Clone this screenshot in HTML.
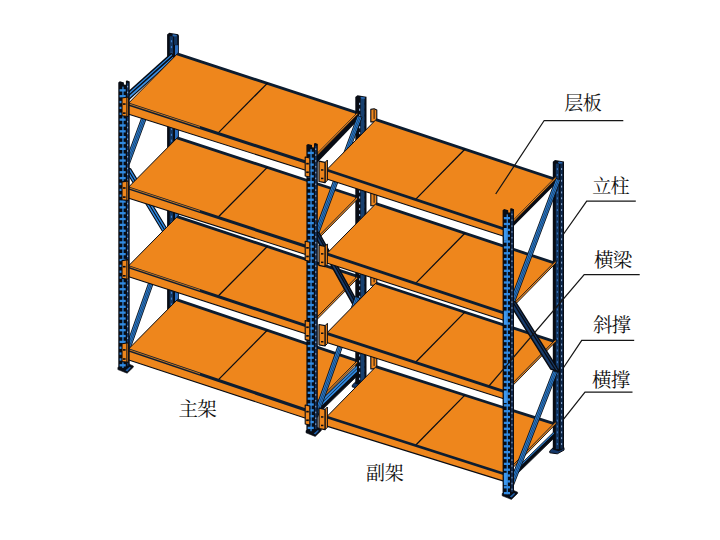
<!DOCTYPE html>
<html><head><meta charset="utf-8"><title>rack</title>
<style>html,body{margin:0;padding:0;background:#fff;font-family:"Liberation Sans",sans-serif;}svg{display:block}</style>
</head><body>
<svg width="720" height="540" viewBox="0 0 720 540">
<rect width="720" height="540" fill="#fff"/>
<polygon points="167.10,34.40 169.30,32.70 178.30,34.20 178.30,320.00 173.10,322.60 167.10,321.00" fill="#080C14"/>
<rect x="178.10" y="35.20" width="0.90" height="284.80" fill="#080C14"/>
<rect x="169.70" y="36.20" width="3.40" height="284.30" fill="#123560"/>
<rect x="175.00" y="45.20" width="3.20" height="274.80" fill="#2A6CBC"/>
<rect x="174.10" y="35.80" width="3.20" height="9.00" fill="#123560"/>
<polygon points="172.10,35.00 173.30,34.20 176.90,34.90 176.70,36.20 173.50,36.40" fill="#2A68B0"/>
<rect x="170.90" y="40.20" width="1.20" height="2.10" fill="#3F7FCB"/>
<rect x="170.90" y="46.05" width="1.20" height="2.10" fill="#3F7FCB"/>
<rect x="170.90" y="51.90" width="1.20" height="2.10" fill="#3F7FCB"/>
<rect x="170.90" y="57.75" width="1.20" height="2.10" fill="#3F7FCB"/>
<rect x="170.90" y="63.60" width="1.20" height="2.10" fill="#3F7FCB"/>
<rect x="170.90" y="69.45" width="1.20" height="2.10" fill="#3F7FCB"/>
<rect x="170.90" y="75.30" width="1.20" height="2.10" fill="#3F7FCB"/>
<rect x="170.90" y="81.15" width="1.20" height="2.10" fill="#3F7FCB"/>
<rect x="170.90" y="87.00" width="1.20" height="2.10" fill="#3F7FCB"/>
<rect x="170.90" y="92.85" width="1.20" height="2.10" fill="#3F7FCB"/>
<rect x="170.90" y="98.70" width="1.20" height="2.10" fill="#3F7FCB"/>
<rect x="170.90" y="104.55" width="1.20" height="2.10" fill="#3F7FCB"/>
<rect x="170.90" y="110.40" width="1.20" height="2.10" fill="#3F7FCB"/>
<rect x="170.90" y="116.25" width="1.20" height="2.10" fill="#3F7FCB"/>
<rect x="170.90" y="122.10" width="1.20" height="2.10" fill="#3F7FCB"/>
<rect x="170.90" y="127.95" width="1.20" height="2.10" fill="#3F7FCB"/>
<rect x="170.90" y="133.80" width="1.20" height="2.10" fill="#3F7FCB"/>
<rect x="170.90" y="139.65" width="1.20" height="2.10" fill="#3F7FCB"/>
<rect x="170.90" y="145.50" width="1.20" height="2.10" fill="#3F7FCB"/>
<rect x="170.90" y="151.35" width="1.20" height="2.10" fill="#3F7FCB"/>
<rect x="170.90" y="157.20" width="1.20" height="2.10" fill="#3F7FCB"/>
<rect x="170.90" y="163.05" width="1.20" height="2.10" fill="#3F7FCB"/>
<rect x="170.90" y="168.90" width="1.20" height="2.10" fill="#3F7FCB"/>
<rect x="170.90" y="174.75" width="1.20" height="2.10" fill="#3F7FCB"/>
<rect x="170.90" y="180.60" width="1.20" height="2.10" fill="#3F7FCB"/>
<rect x="170.90" y="186.45" width="1.20" height="2.10" fill="#3F7FCB"/>
<rect x="170.90" y="192.30" width="1.20" height="2.10" fill="#3F7FCB"/>
<rect x="170.90" y="198.15" width="1.20" height="2.10" fill="#3F7FCB"/>
<rect x="170.90" y="204.00" width="1.20" height="2.10" fill="#3F7FCB"/>
<rect x="170.90" y="209.85" width="1.20" height="2.10" fill="#3F7FCB"/>
<rect x="170.90" y="215.70" width="1.20" height="2.10" fill="#3F7FCB"/>
<rect x="170.90" y="221.55" width="1.20" height="2.10" fill="#3F7FCB"/>
<rect x="170.90" y="227.40" width="1.20" height="2.10" fill="#3F7FCB"/>
<rect x="170.90" y="233.25" width="1.20" height="2.10" fill="#3F7FCB"/>
<rect x="170.90" y="239.10" width="1.20" height="2.10" fill="#3F7FCB"/>
<rect x="170.90" y="244.95" width="1.20" height="2.10" fill="#3F7FCB"/>
<rect x="170.90" y="250.80" width="1.20" height="2.10" fill="#3F7FCB"/>
<rect x="170.90" y="256.65" width="1.20" height="2.10" fill="#3F7FCB"/>
<rect x="170.90" y="262.50" width="1.20" height="2.10" fill="#3F7FCB"/>
<rect x="170.90" y="268.35" width="1.20" height="2.10" fill="#3F7FCB"/>
<rect x="170.90" y="274.20" width="1.20" height="2.10" fill="#3F7FCB"/>
<rect x="170.90" y="280.05" width="1.20" height="2.10" fill="#3F7FCB"/>
<rect x="170.90" y="285.90" width="1.20" height="2.10" fill="#3F7FCB"/>
<rect x="170.90" y="291.75" width="1.20" height="2.10" fill="#3F7FCB"/>
<rect x="170.90" y="297.60" width="1.20" height="2.10" fill="#3F7FCB"/>
<rect x="170.90" y="303.45" width="1.20" height="2.10" fill="#3F7FCB"/>
<rect x="170.90" y="309.30" width="1.20" height="2.10" fill="#3F7FCB"/>
<rect x="170.90" y="315.15" width="1.20" height="2.10" fill="#3F7FCB"/>
<polygon points="124.99,162.78 129.39,164.24 166.20,64.73 161.80,63.27" fill="#318BE3" stroke="#080C14" stroke-width="0.90" stroke-linejoin="round"/>
<line x1="126.58" y1="163.31" x2="163.38" y2="63.80" stroke="#0A1A30" stroke-width="0.60" stroke-linecap="butt"/>
<line x1="127.98" y1="163.77" x2="164.79" y2="64.26" stroke="#0A1A30" stroke-width="0.60" stroke-linecap="butt"/>
<polygon points="123.27,166.44 130.67,168.88 173.05,238.94 165.65,236.50" fill="#318BE3" stroke="#080C14" stroke-width="1.10" stroke-linejoin="round"/>
<line x1="126.97" y1="167.66" x2="169.35" y2="237.72" stroke="#080C14" stroke-width="1.10" stroke-linecap="butt"/>
<polygon points="124.77,350.21 129.17,351.66 171.55,231.65 167.15,230.20" fill="#318BE3" stroke="#080C14" stroke-width="0.90" stroke-linejoin="round"/>
<line x1="126.36" y1="350.73" x2="168.73" y2="230.72" stroke="#0A1A30" stroke-width="0.60" stroke-linecap="butt"/>
<line x1="127.77" y1="351.20" x2="170.14" y2="231.19" stroke="#0A1A30" stroke-width="0.60" stroke-linecap="butt"/>
<polygon points="129.00,90.60 171.60,52.30 175.00,58.00 129.00,100.20" fill="#080C14"/>
<polygon points="129.00,92.60 171.60,54.30 172.20,55.20 129.00,94.20" fill="#318BE3"/>
<polygon points="129.00,96.00 172.90,56.90 174.10,58.00 129.00,98.60" fill="#3D90E2"/>
<polygon points="128.00,349.60 308.00,410.60 357.50,360.50 177.50,299.50" fill="#EE861C"/>
<line x1="177.20" y1="299.80" x2="357.50" y2="360.80" stroke="#0D1D30" stroke-width="2.80" stroke-linecap="butt"/>
<line x1="128.00" y1="349.60" x2="177.50" y2="299.50" stroke="#080C14" stroke-width="1.00" stroke-linecap="butt"/>
<line x1="218.00" y1="380.10" x2="267.50" y2="330.00" stroke="#080C14" stroke-width="1.25" stroke-linecap="butt"/>
<polygon points="128.00,349.60 308.00,410.60 308.00,419.00 128.00,359.80" fill="#EE861C"/>
<line x1="128.00" y1="349.80" x2="308.00" y2="410.80" stroke="#0D1D30" stroke-width="3.10" stroke-linecap="butt"/>
<line x1="128.00" y1="349.45" x2="200.00" y2="373.85" stroke="#EE861C" stroke-width="0.80" stroke-linecap="butt"/>
<line x1="128.00" y1="359.80" x2="308.00" y2="419.00" stroke="#080C14" stroke-width="1.10" stroke-linecap="butt"/>
<polygon points="128.00,266.40 308.00,326.20 357.50,276.10 177.50,216.30" fill="#EE861C"/>
<line x1="177.20" y1="216.60" x2="357.50" y2="276.40" stroke="#0D1D30" stroke-width="2.80" stroke-linecap="butt"/>
<line x1="128.00" y1="266.40" x2="177.50" y2="216.30" stroke="#080C14" stroke-width="1.00" stroke-linecap="butt"/>
<line x1="218.00" y1="296.30" x2="267.50" y2="246.20" stroke="#080C14" stroke-width="1.25" stroke-linecap="butt"/>
<polygon points="128.00,266.40 308.00,326.20 308.00,334.60 128.00,276.60" fill="#EE861C"/>
<line x1="128.00" y1="266.60" x2="308.00" y2="326.40" stroke="#0D1D30" stroke-width="3.10" stroke-linecap="butt"/>
<line x1="128.00" y1="266.25" x2="200.00" y2="290.17" stroke="#EE861C" stroke-width="0.80" stroke-linecap="butt"/>
<line x1="128.00" y1="276.60" x2="308.00" y2="334.60" stroke="#080C14" stroke-width="1.10" stroke-linecap="butt"/>
<polygon points="128.00,187.70 308.00,246.80 357.50,196.70 177.50,137.60" fill="#EE861C"/>
<line x1="177.20" y1="137.90" x2="357.50" y2="197.00" stroke="#0D1D30" stroke-width="2.80" stroke-linecap="butt"/>
<line x1="128.00" y1="187.70" x2="177.50" y2="137.60" stroke="#080C14" stroke-width="1.00" stroke-linecap="butt"/>
<line x1="218.00" y1="217.25" x2="267.50" y2="167.15" stroke="#080C14" stroke-width="1.25" stroke-linecap="butt"/>
<polygon points="128.00,187.70 308.00,246.80 308.00,255.20 128.00,197.90" fill="#EE861C"/>
<line x1="128.00" y1="187.90" x2="308.00" y2="247.00" stroke="#0D1D30" stroke-width="3.10" stroke-linecap="butt"/>
<line x1="128.00" y1="187.55" x2="200.00" y2="211.19" stroke="#EE861C" stroke-width="0.80" stroke-linecap="butt"/>
<line x1="128.00" y1="197.90" x2="308.00" y2="255.20" stroke="#080C14" stroke-width="1.10" stroke-linecap="butt"/>
<polygon points="128.00,103.75 308.00,162.60 357.50,112.50 177.50,53.65" fill="#EE861C"/>
<line x1="177.20" y1="53.95" x2="357.50" y2="112.80" stroke="#0D1D30" stroke-width="2.80" stroke-linecap="butt"/>
<line x1="128.00" y1="103.75" x2="177.50" y2="53.65" stroke="#080C14" stroke-width="1.00" stroke-linecap="butt"/>
<line x1="218.00" y1="133.18" x2="267.50" y2="83.08" stroke="#080C14" stroke-width="1.25" stroke-linecap="butt"/>
<polygon points="128.00,103.75 308.00,162.60 308.00,171.00 128.00,113.95" fill="#EE861C"/>
<line x1="128.00" y1="103.95" x2="308.00" y2="162.80" stroke="#0D1D30" stroke-width="3.10" stroke-linecap="butt"/>
<line x1="128.00" y1="103.60" x2="200.00" y2="127.14" stroke="#EE861C" stroke-width="0.80" stroke-linecap="butt"/>
<line x1="128.00" y1="113.95" x2="308.00" y2="171.00" stroke="#080C14" stroke-width="1.10" stroke-linecap="butt"/>
<polygon points="117.90,367.40 117.90,369.60 127.10,373.20 133.30,367.20 133.30,366.00 129.50,364.30" fill="#080C14" stroke="#080C14" stroke-width="0.60" stroke-linejoin="round"/>
<polygon points="125.50,370.20 127.30,371.40 130.90,367.60 129.70,366.80" fill="#1F5EA8"/>
<polygon points="118.30,82.40 119.90,81.30 123.90,82.50 123.90,84.60 125.90,84.80 125.90,80.80 127.30,80.40 129.70,81.40 129.70,366.20 124.90,370.20 118.30,368.20" fill="#080C14"/>
<rect x="122.30" y="86.60" width="1.30" height="281.40" fill="#318BE3"/>
<rect x="119.60" y="89.20" width="6.10" height="2.30" fill="#318BE3"/>
<rect x="119.60" y="95.05" width="6.10" height="2.30" fill="#318BE3"/>
<rect x="119.60" y="100.90" width="6.10" height="2.30" fill="#318BE3"/>
<rect x="119.60" y="106.75" width="6.10" height="2.30" fill="#318BE3"/>
<rect x="119.60" y="112.60" width="6.10" height="2.30" fill="#318BE3"/>
<rect x="119.60" y="118.45" width="6.10" height="2.30" fill="#318BE3"/>
<rect x="119.60" y="124.30" width="6.10" height="2.30" fill="#318BE3"/>
<rect x="119.60" y="130.15" width="6.10" height="2.30" fill="#318BE3"/>
<rect x="119.60" y="136.00" width="6.10" height="2.30" fill="#318BE3"/>
<rect x="119.60" y="141.85" width="6.10" height="2.30" fill="#318BE3"/>
<rect x="119.60" y="147.70" width="6.10" height="2.30" fill="#318BE3"/>
<rect x="119.60" y="153.55" width="6.10" height="2.30" fill="#318BE3"/>
<rect x="119.60" y="159.40" width="6.10" height="2.30" fill="#318BE3"/>
<rect x="119.60" y="165.25" width="6.10" height="2.30" fill="#318BE3"/>
<rect x="119.60" y="171.10" width="6.10" height="2.30" fill="#318BE3"/>
<rect x="119.60" y="176.95" width="6.10" height="2.30" fill="#318BE3"/>
<rect x="119.60" y="182.80" width="6.10" height="2.30" fill="#318BE3"/>
<rect x="119.60" y="188.65" width="6.10" height="2.30" fill="#318BE3"/>
<rect x="119.60" y="194.50" width="6.10" height="2.30" fill="#318BE3"/>
<rect x="119.60" y="200.35" width="6.10" height="2.30" fill="#318BE3"/>
<rect x="119.60" y="206.20" width="6.10" height="2.30" fill="#318BE3"/>
<rect x="119.60" y="212.05" width="6.10" height="2.30" fill="#318BE3"/>
<rect x="119.60" y="217.90" width="6.10" height="2.30" fill="#318BE3"/>
<rect x="119.60" y="223.75" width="6.10" height="2.30" fill="#318BE3"/>
<rect x="119.60" y="229.60" width="6.10" height="2.30" fill="#318BE3"/>
<rect x="119.60" y="235.45" width="6.10" height="2.30" fill="#318BE3"/>
<rect x="119.60" y="241.30" width="6.10" height="2.30" fill="#318BE3"/>
<rect x="119.60" y="247.15" width="6.10" height="2.30" fill="#318BE3"/>
<rect x="119.60" y="253.00" width="6.10" height="2.30" fill="#318BE3"/>
<rect x="119.60" y="258.85" width="6.10" height="2.30" fill="#318BE3"/>
<rect x="119.60" y="264.70" width="6.10" height="2.30" fill="#318BE3"/>
<rect x="119.60" y="270.55" width="6.10" height="2.30" fill="#318BE3"/>
<rect x="119.60" y="276.40" width="6.10" height="2.30" fill="#318BE3"/>
<rect x="119.60" y="282.25" width="6.10" height="2.30" fill="#318BE3"/>
<rect x="119.60" y="288.10" width="6.10" height="2.30" fill="#318BE3"/>
<rect x="119.60" y="293.95" width="6.10" height="2.30" fill="#318BE3"/>
<rect x="119.60" y="299.80" width="6.10" height="2.30" fill="#318BE3"/>
<rect x="119.60" y="305.65" width="6.10" height="2.30" fill="#318BE3"/>
<rect x="119.60" y="311.50" width="6.10" height="2.30" fill="#318BE3"/>
<rect x="119.60" y="317.35" width="6.10" height="2.30" fill="#318BE3"/>
<rect x="119.60" y="323.20" width="6.10" height="2.30" fill="#318BE3"/>
<rect x="119.60" y="329.05" width="6.10" height="2.30" fill="#318BE3"/>
<rect x="119.60" y="334.90" width="6.10" height="2.30" fill="#318BE3"/>
<rect x="119.60" y="340.75" width="6.10" height="2.30" fill="#318BE3"/>
<rect x="119.60" y="346.60" width="6.10" height="2.30" fill="#318BE3"/>
<rect x="119.60" y="352.45" width="6.10" height="2.30" fill="#318BE3"/>
<rect x="119.60" y="358.30" width="6.10" height="2.30" fill="#318BE3"/>
<rect x="119.60" y="364.15" width="6.10" height="2.30" fill="#318BE3"/>
<rect x="127.00" y="83.10" width="1.40" height="282.60" fill="#133463"/>
<rect x="127.20" y="85.80" width="0.90" height="1.60" fill="#9DB8DC"/>
<rect x="127.20" y="91.65" width="0.90" height="1.60" fill="#9DB8DC"/>
<rect x="127.20" y="97.50" width="0.90" height="1.60" fill="#9DB8DC"/>
<rect x="127.20" y="103.35" width="0.90" height="1.60" fill="#9DB8DC"/>
<rect x="127.20" y="109.20" width="0.90" height="1.60" fill="#9DB8DC"/>
<rect x="127.20" y="115.05" width="0.90" height="1.60" fill="#9DB8DC"/>
<rect x="127.20" y="120.90" width="0.90" height="1.60" fill="#9DB8DC"/>
<rect x="127.20" y="126.75" width="0.90" height="1.60" fill="#9DB8DC"/>
<rect x="127.20" y="132.60" width="0.90" height="1.60" fill="#9DB8DC"/>
<rect x="127.20" y="138.45" width="0.90" height="1.60" fill="#9DB8DC"/>
<rect x="127.20" y="144.30" width="0.90" height="1.60" fill="#9DB8DC"/>
<rect x="127.20" y="150.15" width="0.90" height="1.60" fill="#9DB8DC"/>
<rect x="127.20" y="156.00" width="0.90" height="1.60" fill="#9DB8DC"/>
<rect x="127.20" y="161.85" width="0.90" height="1.60" fill="#9DB8DC"/>
<rect x="127.20" y="167.70" width="0.90" height="1.60" fill="#9DB8DC"/>
<rect x="127.20" y="173.55" width="0.90" height="1.60" fill="#9DB8DC"/>
<rect x="127.20" y="179.40" width="0.90" height="1.60" fill="#9DB8DC"/>
<rect x="127.20" y="185.25" width="0.90" height="1.60" fill="#9DB8DC"/>
<rect x="127.20" y="191.10" width="0.90" height="1.60" fill="#9DB8DC"/>
<rect x="127.20" y="196.95" width="0.90" height="1.60" fill="#9DB8DC"/>
<rect x="127.20" y="202.80" width="0.90" height="1.60" fill="#9DB8DC"/>
<rect x="127.20" y="208.65" width="0.90" height="1.60" fill="#9DB8DC"/>
<rect x="127.20" y="214.50" width="0.90" height="1.60" fill="#9DB8DC"/>
<rect x="127.20" y="220.35" width="0.90" height="1.60" fill="#9DB8DC"/>
<rect x="127.20" y="226.20" width="0.90" height="1.60" fill="#9DB8DC"/>
<rect x="127.20" y="232.05" width="0.90" height="1.60" fill="#9DB8DC"/>
<rect x="127.20" y="237.90" width="0.90" height="1.60" fill="#9DB8DC"/>
<rect x="127.20" y="243.75" width="0.90" height="1.60" fill="#9DB8DC"/>
<rect x="127.20" y="249.60" width="0.90" height="1.60" fill="#9DB8DC"/>
<rect x="127.20" y="255.45" width="0.90" height="1.60" fill="#9DB8DC"/>
<rect x="127.20" y="261.30" width="0.90" height="1.60" fill="#9DB8DC"/>
<rect x="127.20" y="267.15" width="0.90" height="1.60" fill="#9DB8DC"/>
<rect x="127.20" y="273.00" width="0.90" height="1.60" fill="#9DB8DC"/>
<rect x="127.20" y="278.85" width="0.90" height="1.60" fill="#9DB8DC"/>
<rect x="127.20" y="284.70" width="0.90" height="1.60" fill="#9DB8DC"/>
<rect x="127.20" y="290.55" width="0.90" height="1.60" fill="#9DB8DC"/>
<rect x="127.20" y="296.40" width="0.90" height="1.60" fill="#9DB8DC"/>
<rect x="127.20" y="302.25" width="0.90" height="1.60" fill="#9DB8DC"/>
<rect x="127.20" y="308.10" width="0.90" height="1.60" fill="#9DB8DC"/>
<rect x="127.20" y="313.95" width="0.90" height="1.60" fill="#9DB8DC"/>
<rect x="127.20" y="319.80" width="0.90" height="1.60" fill="#9DB8DC"/>
<rect x="127.20" y="325.65" width="0.90" height="1.60" fill="#9DB8DC"/>
<rect x="127.20" y="331.50" width="0.90" height="1.60" fill="#9DB8DC"/>
<rect x="127.20" y="337.35" width="0.90" height="1.60" fill="#9DB8DC"/>
<rect x="127.20" y="343.20" width="0.90" height="1.60" fill="#9DB8DC"/>
<rect x="127.20" y="349.05" width="0.90" height="1.60" fill="#9DB8DC"/>
<rect x="127.20" y="354.90" width="0.90" height="1.60" fill="#9DB8DC"/>
<rect x="127.20" y="360.75" width="0.90" height="1.60" fill="#9DB8DC"/>
<polygon points="122.00,97.95 128.30,96.95 128.30,116.55 122.00,115.75" fill="#EE861C" stroke="#080C14" stroke-width="1.10" stroke-linejoin="round"/>
<line x1="126.70" y1="97.35" x2="126.70" y2="116.15" stroke="#080C14" stroke-width="0.80" stroke-linecap="butt"/>
<rect x="123.00" y="103.25" width="2.60" height="1.60" fill="#080C14"/>
<rect x="123.00" y="112.35" width="2.60" height="1.60" fill="#080C14"/>
<polygon points="122.00,181.90 128.30,180.90 128.30,200.50 122.00,199.70" fill="#EE861C" stroke="#080C14" stroke-width="1.10" stroke-linejoin="round"/>
<line x1="126.70" y1="181.30" x2="126.70" y2="200.10" stroke="#080C14" stroke-width="0.80" stroke-linecap="butt"/>
<rect x="123.00" y="187.20" width="2.60" height="1.60" fill="#080C14"/>
<rect x="123.00" y="196.30" width="2.60" height="1.60" fill="#080C14"/>
<polygon points="122.00,260.60 128.30,259.60 128.30,279.20 122.00,278.40" fill="#EE861C" stroke="#080C14" stroke-width="1.10" stroke-linejoin="round"/>
<line x1="126.70" y1="260.00" x2="126.70" y2="278.80" stroke="#080C14" stroke-width="0.80" stroke-linecap="butt"/>
<rect x="123.00" y="265.90" width="2.60" height="1.60" fill="#080C14"/>
<rect x="123.00" y="275.00" width="2.60" height="1.60" fill="#080C14"/>
<polygon points="122.00,343.80 128.30,342.80 128.30,362.40 122.00,361.60" fill="#EE861C" stroke="#080C14" stroke-width="1.10" stroke-linejoin="round"/>
<line x1="126.70" y1="343.20" x2="126.70" y2="362.00" stroke="#080C14" stroke-width="0.80" stroke-linecap="butt"/>
<rect x="123.00" y="349.10" width="2.60" height="1.60" fill="#080C14"/>
<rect x="123.00" y="358.20" width="2.60" height="1.60" fill="#080C14"/>
<polygon points="352.30,385.10 355.80,381.80 366.50,381.80 366.50,384.30 359.80,388.00 352.30,387.00" fill="#15386A" stroke="#080C14" stroke-width="1.00" stroke-linejoin="round"/>
<polygon points="355.30,97.00 357.50,95.30 366.50,96.80 366.50,382.80 361.30,385.40 355.30,383.80" fill="#080C14"/>
<rect x="360.60" y="98.40" width="3.90" height="284.50" fill="#17406F"/>
<polygon points="360.30,97.60 361.50,96.80 365.10,97.50 364.90,98.80 361.70,99.00" fill="#2A68B0"/>
<rect x="359.00" y="102.80" width="1.20" height="2.10" fill="#8FAED8"/>
<rect x="364.60" y="102.80" width="1.20" height="2.00" fill="#080C14"/>
<rect x="359.00" y="108.65" width="1.20" height="2.10" fill="#8FAED8"/>
<rect x="364.60" y="108.65" width="1.20" height="2.00" fill="#080C14"/>
<rect x="359.00" y="114.50" width="1.20" height="2.10" fill="#8FAED8"/>
<rect x="364.60" y="114.50" width="1.20" height="2.00" fill="#080C14"/>
<rect x="359.00" y="120.35" width="1.20" height="2.10" fill="#8FAED8"/>
<rect x="364.60" y="120.35" width="1.20" height="2.00" fill="#080C14"/>
<rect x="359.00" y="126.20" width="1.20" height="2.10" fill="#8FAED8"/>
<rect x="364.60" y="126.20" width="1.20" height="2.00" fill="#080C14"/>
<rect x="359.00" y="132.05" width="1.20" height="2.10" fill="#8FAED8"/>
<rect x="364.60" y="132.05" width="1.20" height="2.00" fill="#080C14"/>
<rect x="359.00" y="137.90" width="1.20" height="2.10" fill="#8FAED8"/>
<rect x="364.60" y="137.90" width="1.20" height="2.00" fill="#080C14"/>
<rect x="359.00" y="143.75" width="1.20" height="2.10" fill="#8FAED8"/>
<rect x="364.60" y="143.75" width="1.20" height="2.00" fill="#080C14"/>
<rect x="359.00" y="149.60" width="1.20" height="2.10" fill="#8FAED8"/>
<rect x="364.60" y="149.60" width="1.20" height="2.00" fill="#080C14"/>
<rect x="359.00" y="155.45" width="1.20" height="2.10" fill="#8FAED8"/>
<rect x="364.60" y="155.45" width="1.20" height="2.00" fill="#080C14"/>
<rect x="359.00" y="161.30" width="1.20" height="2.10" fill="#8FAED8"/>
<rect x="364.60" y="161.30" width="1.20" height="2.00" fill="#080C14"/>
<rect x="359.00" y="167.15" width="1.20" height="2.10" fill="#8FAED8"/>
<rect x="364.60" y="167.15" width="1.20" height="2.00" fill="#080C14"/>
<rect x="359.00" y="173.00" width="1.20" height="2.10" fill="#8FAED8"/>
<rect x="364.60" y="173.00" width="1.20" height="2.00" fill="#080C14"/>
<rect x="359.00" y="178.85" width="1.20" height="2.10" fill="#8FAED8"/>
<rect x="364.60" y="178.85" width="1.20" height="2.00" fill="#080C14"/>
<rect x="359.00" y="184.70" width="1.20" height="2.10" fill="#8FAED8"/>
<rect x="364.60" y="184.70" width="1.20" height="2.00" fill="#080C14"/>
<rect x="359.00" y="190.55" width="1.20" height="2.10" fill="#8FAED8"/>
<rect x="364.60" y="190.55" width="1.20" height="2.00" fill="#080C14"/>
<rect x="359.00" y="196.40" width="1.20" height="2.10" fill="#8FAED8"/>
<rect x="364.60" y="196.40" width="1.20" height="2.00" fill="#080C14"/>
<rect x="359.00" y="202.25" width="1.20" height="2.10" fill="#8FAED8"/>
<rect x="364.60" y="202.25" width="1.20" height="2.00" fill="#080C14"/>
<rect x="359.00" y="208.10" width="1.20" height="2.10" fill="#8FAED8"/>
<rect x="364.60" y="208.10" width="1.20" height="2.00" fill="#080C14"/>
<rect x="359.00" y="213.95" width="1.20" height="2.10" fill="#8FAED8"/>
<rect x="364.60" y="213.95" width="1.20" height="2.00" fill="#080C14"/>
<rect x="359.00" y="219.80" width="1.20" height="2.10" fill="#8FAED8"/>
<rect x="364.60" y="219.80" width="1.20" height="2.00" fill="#080C14"/>
<rect x="359.00" y="225.65" width="1.20" height="2.10" fill="#8FAED8"/>
<rect x="364.60" y="225.65" width="1.20" height="2.00" fill="#080C14"/>
<rect x="359.00" y="231.50" width="1.20" height="2.10" fill="#8FAED8"/>
<rect x="364.60" y="231.50" width="1.20" height="2.00" fill="#080C14"/>
<rect x="359.00" y="237.35" width="1.20" height="2.10" fill="#8FAED8"/>
<rect x="364.60" y="237.35" width="1.20" height="2.00" fill="#080C14"/>
<rect x="359.00" y="243.20" width="1.20" height="2.10" fill="#8FAED8"/>
<rect x="364.60" y="243.20" width="1.20" height="2.00" fill="#080C14"/>
<rect x="359.00" y="249.05" width="1.20" height="2.10" fill="#8FAED8"/>
<rect x="364.60" y="249.05" width="1.20" height="2.00" fill="#080C14"/>
<rect x="359.00" y="254.90" width="1.20" height="2.10" fill="#8FAED8"/>
<rect x="364.60" y="254.90" width="1.20" height="2.00" fill="#080C14"/>
<rect x="359.00" y="260.75" width="1.20" height="2.10" fill="#8FAED8"/>
<rect x="364.60" y="260.75" width="1.20" height="2.00" fill="#080C14"/>
<rect x="359.00" y="266.60" width="1.20" height="2.10" fill="#8FAED8"/>
<rect x="364.60" y="266.60" width="1.20" height="2.00" fill="#080C14"/>
<rect x="359.00" y="272.45" width="1.20" height="2.10" fill="#8FAED8"/>
<rect x="364.60" y="272.45" width="1.20" height="2.00" fill="#080C14"/>
<rect x="359.00" y="278.30" width="1.20" height="2.10" fill="#8FAED8"/>
<rect x="364.60" y="278.30" width="1.20" height="2.00" fill="#080C14"/>
<rect x="359.00" y="284.15" width="1.20" height="2.10" fill="#8FAED8"/>
<rect x="364.60" y="284.15" width="1.20" height="2.00" fill="#080C14"/>
<rect x="359.00" y="290.00" width="1.20" height="2.10" fill="#8FAED8"/>
<rect x="364.60" y="290.00" width="1.20" height="2.00" fill="#080C14"/>
<rect x="359.00" y="295.85" width="1.20" height="2.10" fill="#8FAED8"/>
<rect x="364.60" y="295.85" width="1.20" height="2.00" fill="#080C14"/>
<rect x="359.00" y="301.70" width="1.20" height="2.10" fill="#8FAED8"/>
<rect x="364.60" y="301.70" width="1.20" height="2.00" fill="#080C14"/>
<rect x="359.00" y="307.55" width="1.20" height="2.10" fill="#8FAED8"/>
<rect x="364.60" y="307.55" width="1.20" height="2.00" fill="#080C14"/>
<rect x="359.00" y="313.40" width="1.20" height="2.10" fill="#8FAED8"/>
<rect x="364.60" y="313.40" width="1.20" height="2.00" fill="#080C14"/>
<rect x="359.00" y="319.25" width="1.20" height="2.10" fill="#8FAED8"/>
<rect x="364.60" y="319.25" width="1.20" height="2.00" fill="#080C14"/>
<rect x="359.00" y="325.10" width="1.20" height="2.10" fill="#8FAED8"/>
<rect x="364.60" y="325.10" width="1.20" height="2.00" fill="#080C14"/>
<rect x="359.00" y="330.95" width="1.20" height="2.10" fill="#8FAED8"/>
<rect x="364.60" y="330.95" width="1.20" height="2.00" fill="#080C14"/>
<rect x="359.00" y="336.80" width="1.20" height="2.10" fill="#8FAED8"/>
<rect x="364.60" y="336.80" width="1.20" height="2.00" fill="#080C14"/>
<rect x="359.00" y="342.65" width="1.20" height="2.10" fill="#8FAED8"/>
<rect x="364.60" y="342.65" width="1.20" height="2.00" fill="#080C14"/>
<rect x="359.00" y="348.50" width="1.20" height="2.10" fill="#8FAED8"/>
<rect x="364.60" y="348.50" width="1.20" height="2.00" fill="#080C14"/>
<rect x="359.00" y="354.35" width="1.20" height="2.10" fill="#8FAED8"/>
<rect x="364.60" y="354.35" width="1.20" height="2.00" fill="#080C14"/>
<rect x="359.00" y="360.20" width="1.20" height="2.10" fill="#8FAED8"/>
<rect x="364.60" y="360.20" width="1.20" height="2.00" fill="#080C14"/>
<rect x="359.00" y="366.05" width="1.20" height="2.10" fill="#8FAED8"/>
<rect x="364.60" y="366.05" width="1.20" height="2.00" fill="#080C14"/>
<rect x="359.00" y="371.90" width="1.20" height="2.10" fill="#8FAED8"/>
<rect x="364.60" y="371.90" width="1.20" height="2.00" fill="#080C14"/>
<rect x="359.00" y="377.75" width="1.20" height="2.10" fill="#8FAED8"/>
<rect x="364.60" y="377.75" width="1.20" height="2.00" fill="#080C14"/>
<polygon points="315.43,155.09 357.50,112.50 357.50,120.70 315.43,164.49" fill="#080C14"/>
<polygon points="315.43,155.09 357.50,112.50 357.50,114.60 315.43,157.19" fill="#EE861C" stroke="#080C14" stroke-width="0.60" stroke-linejoin="round"/>
<polygon points="315.43,239.29 357.50,196.70 357.50,199.10 315.43,241.69" fill="#EE861C" stroke="#080C14" stroke-width="0.90" stroke-linejoin="round"/>
<polygon points="315.43,318.69 357.50,276.10 357.50,278.50 315.43,321.08" fill="#EE861C" stroke="#080C14" stroke-width="0.90" stroke-linejoin="round"/>
<polygon points="315.43,403.09 357.50,360.50 357.50,362.90 315.43,405.49" fill="#EE861C" stroke="#080C14" stroke-width="0.90" stroke-linejoin="round"/>
<polygon points="317.60,403.60 357.00,365.40 357.00,376.10 317.60,414.30" fill="#080C14" stroke="#080C14" stroke-width="0.80" stroke-linejoin="round"/>
<polygon points="317.60,404.10 357.00,365.90 357.00,368.25 317.60,406.45" fill="#318BE3"/>
<polygon points="317.60,407.25 357.00,369.05 357.00,371.40 317.60,409.60" fill="#318BE3"/>
<polygon points="312.98,235.84 317.38,237.30 362.00,117.11 357.60,115.65" fill="#318BE3" stroke="#080C14" stroke-width="0.90" stroke-linejoin="round"/>
<line x1="314.56" y1="236.37" x2="359.18" y2="116.18" stroke="#0A1A30" stroke-width="0.60" stroke-linecap="butt"/>
<line x1="315.97" y1="236.83" x2="360.59" y2="116.64" stroke="#0A1A30" stroke-width="0.60" stroke-linecap="butt"/>
<polygon points="311.68,230.12 318.68,232.43 361.05,308.70 354.05,306.40" fill="#183C6C" stroke="#080C14" stroke-width="1.50" stroke-linejoin="round"/>
<line x1="315.88" y1="231.51" x2="358.25" y2="307.78" stroke="#080C14" stroke-width="1.30" stroke-linecap="butt"/>
<polygon points="313.19,415.65 317.59,417.10 359.74,298.00 355.34,296.55" fill="#318BE3" stroke="#080C14" stroke-width="0.90" stroke-linejoin="round"/>
<line x1="314.77" y1="416.17" x2="356.92" y2="297.07" stroke="#0A1A30" stroke-width="0.60" stroke-linecap="butt"/>
<line x1="316.18" y1="416.64" x2="358.33" y2="297.54" stroke="#0A1A30" stroke-width="0.60" stroke-linecap="butt"/>
<polygon points="306.00,430.60 306.00,432.80 315.20,436.40 321.40,430.40 321.40,429.20 317.60,427.50" fill="#080C14" stroke="#080C14" stroke-width="0.60" stroke-linejoin="round"/>
<polygon points="313.60,433.40 315.40,434.60 319.00,430.80 317.80,430.00" fill="#1F5EA8"/>
<polygon points="306.40,145.00 308.00,143.90 312.00,145.10 312.00,147.20 314.00,147.40 314.00,143.40 315.40,143.00 317.80,144.00 317.80,429.40 313.00,433.40 306.40,431.40" fill="#080C14"/>
<rect x="310.40" y="149.20" width="1.30" height="282.00" fill="#318BE3"/>
<rect x="307.70" y="151.80" width="6.10" height="2.30" fill="#318BE3"/>
<rect x="307.70" y="157.65" width="6.10" height="2.30" fill="#318BE3"/>
<rect x="307.70" y="163.50" width="6.10" height="2.30" fill="#318BE3"/>
<rect x="307.70" y="169.35" width="6.10" height="2.30" fill="#318BE3"/>
<rect x="307.70" y="175.20" width="6.10" height="2.30" fill="#318BE3"/>
<rect x="307.70" y="181.05" width="6.10" height="2.30" fill="#318BE3"/>
<rect x="307.70" y="186.90" width="6.10" height="2.30" fill="#318BE3"/>
<rect x="307.70" y="192.75" width="6.10" height="2.30" fill="#318BE3"/>
<rect x="307.70" y="198.60" width="6.10" height="2.30" fill="#318BE3"/>
<rect x="307.70" y="204.45" width="6.10" height="2.30" fill="#318BE3"/>
<rect x="307.70" y="210.30" width="6.10" height="2.30" fill="#318BE3"/>
<rect x="307.70" y="216.15" width="6.10" height="2.30" fill="#318BE3"/>
<rect x="307.70" y="222.00" width="6.10" height="2.30" fill="#318BE3"/>
<rect x="307.70" y="227.85" width="6.10" height="2.30" fill="#318BE3"/>
<rect x="307.70" y="233.70" width="6.10" height="2.30" fill="#318BE3"/>
<rect x="307.70" y="239.55" width="6.10" height="2.30" fill="#318BE3"/>
<rect x="307.70" y="245.40" width="6.10" height="2.30" fill="#318BE3"/>
<rect x="307.70" y="251.25" width="6.10" height="2.30" fill="#318BE3"/>
<rect x="307.70" y="257.10" width="6.10" height="2.30" fill="#318BE3"/>
<rect x="307.70" y="262.95" width="6.10" height="2.30" fill="#318BE3"/>
<rect x="307.70" y="268.80" width="6.10" height="2.30" fill="#318BE3"/>
<rect x="307.70" y="274.65" width="6.10" height="2.30" fill="#318BE3"/>
<rect x="307.70" y="280.50" width="6.10" height="2.30" fill="#318BE3"/>
<rect x="307.70" y="286.35" width="6.10" height="2.30" fill="#318BE3"/>
<rect x="307.70" y="292.20" width="6.10" height="2.30" fill="#318BE3"/>
<rect x="307.70" y="298.05" width="6.10" height="2.30" fill="#318BE3"/>
<rect x="307.70" y="303.90" width="6.10" height="2.30" fill="#318BE3"/>
<rect x="307.70" y="309.75" width="6.10" height="2.30" fill="#318BE3"/>
<rect x="307.70" y="315.60" width="6.10" height="2.30" fill="#318BE3"/>
<rect x="307.70" y="321.45" width="6.10" height="2.30" fill="#318BE3"/>
<rect x="307.70" y="327.30" width="6.10" height="2.30" fill="#318BE3"/>
<rect x="307.70" y="333.15" width="6.10" height="2.30" fill="#318BE3"/>
<rect x="307.70" y="339.00" width="6.10" height="2.30" fill="#318BE3"/>
<rect x="307.70" y="344.85" width="6.10" height="2.30" fill="#318BE3"/>
<rect x="307.70" y="350.70" width="6.10" height="2.30" fill="#318BE3"/>
<rect x="307.70" y="356.55" width="6.10" height="2.30" fill="#318BE3"/>
<rect x="307.70" y="362.40" width="6.10" height="2.30" fill="#318BE3"/>
<rect x="307.70" y="368.25" width="6.10" height="2.30" fill="#318BE3"/>
<rect x="307.70" y="374.10" width="6.10" height="2.30" fill="#318BE3"/>
<rect x="307.70" y="379.95" width="6.10" height="2.30" fill="#318BE3"/>
<rect x="307.70" y="385.80" width="6.10" height="2.30" fill="#318BE3"/>
<rect x="307.70" y="391.65" width="6.10" height="2.30" fill="#318BE3"/>
<rect x="307.70" y="397.50" width="6.10" height="2.30" fill="#318BE3"/>
<rect x="307.70" y="403.35" width="6.10" height="2.30" fill="#318BE3"/>
<rect x="307.70" y="409.20" width="6.10" height="2.30" fill="#318BE3"/>
<rect x="307.70" y="415.05" width="6.10" height="2.30" fill="#318BE3"/>
<rect x="307.70" y="420.90" width="6.10" height="2.30" fill="#318BE3"/>
<rect x="307.70" y="426.75" width="6.10" height="2.30" fill="#318BE3"/>
<rect x="315.10" y="145.70" width="1.40" height="283.20" fill="#133463"/>
<rect x="315.30" y="148.40" width="0.90" height="1.60" fill="#9DB8DC"/>
<rect x="315.30" y="154.25" width="0.90" height="1.60" fill="#9DB8DC"/>
<rect x="315.30" y="160.10" width="0.90" height="1.60" fill="#9DB8DC"/>
<rect x="315.30" y="165.95" width="0.90" height="1.60" fill="#9DB8DC"/>
<rect x="315.30" y="171.80" width="0.90" height="1.60" fill="#9DB8DC"/>
<rect x="315.30" y="177.65" width="0.90" height="1.60" fill="#9DB8DC"/>
<rect x="315.30" y="183.50" width="0.90" height="1.60" fill="#9DB8DC"/>
<rect x="315.30" y="189.35" width="0.90" height="1.60" fill="#9DB8DC"/>
<rect x="315.30" y="195.20" width="0.90" height="1.60" fill="#9DB8DC"/>
<rect x="315.30" y="201.05" width="0.90" height="1.60" fill="#9DB8DC"/>
<rect x="315.30" y="206.90" width="0.90" height="1.60" fill="#9DB8DC"/>
<rect x="315.30" y="212.75" width="0.90" height="1.60" fill="#9DB8DC"/>
<rect x="315.30" y="218.60" width="0.90" height="1.60" fill="#9DB8DC"/>
<rect x="315.30" y="224.45" width="0.90" height="1.60" fill="#9DB8DC"/>
<rect x="315.30" y="230.30" width="0.90" height="1.60" fill="#9DB8DC"/>
<rect x="315.30" y="236.15" width="0.90" height="1.60" fill="#9DB8DC"/>
<rect x="315.30" y="242.00" width="0.90" height="1.60" fill="#9DB8DC"/>
<rect x="315.30" y="247.85" width="0.90" height="1.60" fill="#9DB8DC"/>
<rect x="315.30" y="253.70" width="0.90" height="1.60" fill="#9DB8DC"/>
<rect x="315.30" y="259.55" width="0.90" height="1.60" fill="#9DB8DC"/>
<rect x="315.30" y="265.40" width="0.90" height="1.60" fill="#9DB8DC"/>
<rect x="315.30" y="271.25" width="0.90" height="1.60" fill="#9DB8DC"/>
<rect x="315.30" y="277.10" width="0.90" height="1.60" fill="#9DB8DC"/>
<rect x="315.30" y="282.95" width="0.90" height="1.60" fill="#9DB8DC"/>
<rect x="315.30" y="288.80" width="0.90" height="1.60" fill="#9DB8DC"/>
<rect x="315.30" y="294.65" width="0.90" height="1.60" fill="#9DB8DC"/>
<rect x="315.30" y="300.50" width="0.90" height="1.60" fill="#9DB8DC"/>
<rect x="315.30" y="306.35" width="0.90" height="1.60" fill="#9DB8DC"/>
<rect x="315.30" y="312.20" width="0.90" height="1.60" fill="#9DB8DC"/>
<rect x="315.30" y="318.05" width="0.90" height="1.60" fill="#9DB8DC"/>
<rect x="315.30" y="323.90" width="0.90" height="1.60" fill="#9DB8DC"/>
<rect x="315.30" y="329.75" width="0.90" height="1.60" fill="#9DB8DC"/>
<rect x="315.30" y="335.60" width="0.90" height="1.60" fill="#9DB8DC"/>
<rect x="315.30" y="341.45" width="0.90" height="1.60" fill="#9DB8DC"/>
<rect x="315.30" y="347.30" width="0.90" height="1.60" fill="#9DB8DC"/>
<rect x="315.30" y="353.15" width="0.90" height="1.60" fill="#9DB8DC"/>
<rect x="315.30" y="359.00" width="0.90" height="1.60" fill="#9DB8DC"/>
<rect x="315.30" y="364.85" width="0.90" height="1.60" fill="#9DB8DC"/>
<rect x="315.30" y="370.70" width="0.90" height="1.60" fill="#9DB8DC"/>
<rect x="315.30" y="376.55" width="0.90" height="1.60" fill="#9DB8DC"/>
<rect x="315.30" y="382.40" width="0.90" height="1.60" fill="#9DB8DC"/>
<rect x="315.30" y="388.25" width="0.90" height="1.60" fill="#9DB8DC"/>
<rect x="315.30" y="394.10" width="0.90" height="1.60" fill="#9DB8DC"/>
<rect x="315.30" y="399.95" width="0.90" height="1.60" fill="#9DB8DC"/>
<rect x="315.30" y="405.80" width="0.90" height="1.60" fill="#9DB8DC"/>
<rect x="315.30" y="411.65" width="0.90" height="1.60" fill="#9DB8DC"/>
<rect x="315.30" y="417.50" width="0.90" height="1.60" fill="#9DB8DC"/>
<rect x="315.30" y="423.35" width="0.90" height="1.60" fill="#9DB8DC"/>
<polygon points="305.20,157.00 309.80,158.00 309.80,177.00 305.20,176.00" fill="#EE861C" stroke="#080C14" stroke-width="1.10" stroke-linejoin="round"/>
<rect x="306.20" y="162.80" width="2.60" height="1.70" fill="#080C14"/>
<rect x="306.20" y="171.40" width="2.60" height="1.70" fill="#080C14"/>
<polygon points="305.20,241.20 309.80,242.20 309.80,261.20 305.20,260.20" fill="#EE861C" stroke="#080C14" stroke-width="1.10" stroke-linejoin="round"/>
<rect x="306.20" y="247.00" width="2.60" height="1.70" fill="#080C14"/>
<rect x="306.20" y="255.60" width="2.60" height="1.70" fill="#080C14"/>
<polygon points="305.20,320.60 309.80,321.60 309.80,340.60 305.20,339.60" fill="#EE861C" stroke="#080C14" stroke-width="1.10" stroke-linejoin="round"/>
<rect x="306.20" y="326.40" width="2.60" height="1.70" fill="#080C14"/>
<rect x="306.20" y="335.00" width="2.60" height="1.70" fill="#080C14"/>
<polygon points="305.20,405.00 309.80,406.00 309.80,425.00 305.20,424.00" fill="#EE861C" stroke="#080C14" stroke-width="1.10" stroke-linejoin="round"/>
<rect x="306.20" y="410.80" width="2.60" height="1.70" fill="#080C14"/>
<rect x="306.20" y="419.40" width="2.60" height="1.70" fill="#080C14"/>
<polygon points="370.80,356.40 374.10,355.80 376.80,357.00 376.80,368.90 370.80,368.90" fill="#EE861C" stroke="#080C14" stroke-width="1.10" stroke-linejoin="round"/>
<line x1="374.10" y1="357.00" x2="374.10" y2="365.90" stroke="#080C14" stroke-width="0.90" stroke-linecap="butt"/>
<polygon points="326.70,416.80 504.50,473.80 554.00,423.40 376.20,366.40" fill="#EE861C"/>
<line x1="375.90" y1="366.70" x2="554.00" y2="423.70" stroke="#0D1D30" stroke-width="2.80" stroke-linecap="butt"/>
<line x1="326.70" y1="416.80" x2="376.20" y2="366.40" stroke="#080C14" stroke-width="1.00" stroke-linecap="butt"/>
<line x1="415.60" y1="445.30" x2="465.10" y2="394.90" stroke="#080C14" stroke-width="1.25" stroke-linecap="butt"/>
<polygon points="326.70,416.80 504.50,473.80 504.50,481.40 326.70,426.10" fill="#EE861C"/>
<line x1="326.70" y1="417.00" x2="504.50" y2="474.00" stroke="#0D1D30" stroke-width="2.80" stroke-linecap="butt"/>
<line x1="326.70" y1="426.10" x2="504.50" y2="481.40" stroke="#080C14" stroke-width="1.10" stroke-linecap="butt"/>
<polygon points="370.80,272.70 374.10,272.10 376.80,273.30 376.80,285.20 370.80,285.20" fill="#EE861C" stroke="#080C14" stroke-width="1.10" stroke-linejoin="round"/>
<line x1="374.10" y1="273.30" x2="374.10" y2="282.20" stroke="#080C14" stroke-width="0.90" stroke-linecap="butt"/>
<polygon points="326.70,333.10 504.50,391.50 554.00,341.10 376.20,282.70" fill="#EE861C"/>
<line x1="375.90" y1="283.00" x2="554.00" y2="341.40" stroke="#0D1D30" stroke-width="2.80" stroke-linecap="butt"/>
<line x1="326.70" y1="333.10" x2="376.20" y2="282.70" stroke="#080C14" stroke-width="1.00" stroke-linecap="butt"/>
<line x1="415.60" y1="362.30" x2="465.10" y2="311.90" stroke="#080C14" stroke-width="1.25" stroke-linecap="butt"/>
<polygon points="326.70,333.10 504.50,391.50 504.50,399.10 326.70,342.40" fill="#EE861C"/>
<line x1="326.70" y1="333.30" x2="504.50" y2="391.70" stroke="#0D1D30" stroke-width="2.80" stroke-linecap="butt"/>
<line x1="326.70" y1="342.40" x2="504.50" y2="399.10" stroke="#080C14" stroke-width="1.10" stroke-linecap="butt"/>
<polygon points="370.80,193.30 374.10,192.70 376.80,193.90 376.80,205.80 370.80,205.80" fill="#EE861C" stroke="#080C14" stroke-width="1.10" stroke-linejoin="round"/>
<line x1="374.10" y1="193.90" x2="374.10" y2="202.80" stroke="#080C14" stroke-width="0.90" stroke-linecap="butt"/>
<polygon points="326.70,253.70 504.50,313.00 554.00,262.60 376.20,203.30" fill="#EE861C"/>
<line x1="375.90" y1="203.60" x2="554.00" y2="262.90" stroke="#0D1D30" stroke-width="2.80" stroke-linecap="butt"/>
<line x1="326.70" y1="253.70" x2="376.20" y2="203.30" stroke="#080C14" stroke-width="1.00" stroke-linecap="butt"/>
<line x1="415.60" y1="283.35" x2="465.10" y2="232.95" stroke="#080C14" stroke-width="1.25" stroke-linecap="butt"/>
<polygon points="326.70,253.70 504.50,313.00 504.50,320.60 326.70,263.00" fill="#EE861C"/>
<line x1="326.70" y1="253.90" x2="504.50" y2="313.20" stroke="#0D1D30" stroke-width="2.80" stroke-linecap="butt"/>
<line x1="326.70" y1="263.00" x2="504.50" y2="320.60" stroke="#080C14" stroke-width="1.10" stroke-linecap="butt"/>
<polygon points="370.80,109.40 374.10,108.80 376.80,110.00 376.80,121.90 370.80,121.90" fill="#EE861C" stroke="#080C14" stroke-width="1.10" stroke-linejoin="round"/>
<line x1="374.10" y1="110.00" x2="374.10" y2="118.90" stroke="#080C14" stroke-width="0.90" stroke-linecap="butt"/>
<polygon points="326.70,169.80 504.50,229.00 554.00,178.60 376.20,119.40" fill="#EE861C"/>
<line x1="375.90" y1="119.70" x2="554.00" y2="178.90" stroke="#0D1D30" stroke-width="2.80" stroke-linecap="butt"/>
<line x1="326.70" y1="169.80" x2="376.20" y2="119.40" stroke="#080C14" stroke-width="1.00" stroke-linecap="butt"/>
<line x1="415.60" y1="199.40" x2="465.10" y2="149.00" stroke="#080C14" stroke-width="1.25" stroke-linecap="butt"/>
<polygon points="326.70,169.80 504.50,229.00 504.50,236.60 326.70,179.10" fill="#EE861C"/>
<line x1="326.70" y1="170.00" x2="504.50" y2="229.20" stroke="#0D1D30" stroke-width="2.80" stroke-linecap="butt"/>
<line x1="326.70" y1="179.10" x2="504.50" y2="236.60" stroke="#080C14" stroke-width="1.10" stroke-linecap="butt"/>
<polygon points="325.00,162.40 327.40,160.00 327.40,180.30 325.00,182.70" fill="#EE861C" stroke="#080C14" stroke-width="1.00" stroke-linejoin="round"/>
<polygon points="319.00,161.20 325.00,162.40 325.00,182.70 319.00,181.50" fill="#EE861C" stroke="#080C14" stroke-width="1.20" stroke-linejoin="round"/>
<rect x="321.00" y="169.20" width="2.40" height="1.50" fill="#080C14"/>
<rect x="321.00" y="177.70" width="2.40" height="1.50" fill="#080C14"/>
<polygon points="325.00,246.30 327.40,243.90 327.40,264.20 325.00,266.60" fill="#EE861C" stroke="#080C14" stroke-width="1.00" stroke-linejoin="round"/>
<polygon points="319.00,245.10 325.00,246.30 325.00,266.60 319.00,265.40" fill="#EE861C" stroke="#080C14" stroke-width="1.20" stroke-linejoin="round"/>
<rect x="321.00" y="253.10" width="2.40" height="1.50" fill="#080C14"/>
<rect x="321.00" y="261.60" width="2.40" height="1.50" fill="#080C14"/>
<polygon points="325.00,325.70 327.40,323.30 327.40,343.60 325.00,346.00" fill="#EE861C" stroke="#080C14" stroke-width="1.00" stroke-linejoin="round"/>
<polygon points="319.00,324.50 325.00,325.70 325.00,346.00 319.00,344.80" fill="#EE861C" stroke="#080C14" stroke-width="1.20" stroke-linejoin="round"/>
<rect x="321.00" y="332.50" width="2.40" height="1.50" fill="#080C14"/>
<rect x="321.00" y="341.00" width="2.40" height="1.50" fill="#080C14"/>
<polygon points="325.00,409.40 327.40,407.00 327.40,427.30 325.00,429.70" fill="#EE861C" stroke="#080C14" stroke-width="1.00" stroke-linejoin="round"/>
<polygon points="319.00,408.20 325.00,409.40 325.00,429.70 319.00,428.50" fill="#EE861C" stroke="#080C14" stroke-width="1.20" stroke-linejoin="round"/>
<rect x="321.00" y="416.20" width="2.40" height="1.50" fill="#080C14"/>
<rect x="321.00" y="424.70" width="2.40" height="1.50" fill="#080C14"/>
<polygon points="549.80,450.90 553.30,447.60 564.00,447.60 564.00,450.10 557.30,453.80 549.80,452.80" fill="#15386A" stroke="#080C14" stroke-width="1.00" stroke-linejoin="round"/>
<polygon points="552.80,161.80 555.00,160.10 564.00,161.60 564.00,448.60 558.80,451.20 552.80,449.60" fill="#080C14"/>
<rect x="555.80" y="163.60" width="3.10" height="285.50" fill="#123560"/>
<rect x="560.40" y="163.20" width="2.30" height="285.50" fill="#0F2B50"/>
<polygon points="557.80,162.40 559.00,161.60 562.60,162.30 562.40,163.60 559.20,163.80" fill="#2A68B0"/>
<rect x="556.80" y="168.10" width="1.10" height="2.00" fill="#3A74BC"/>
<rect x="561.10" y="168.10" width="1.00" height="1.90" fill="#8FAED8"/>
<rect x="556.80" y="173.95" width="1.10" height="2.00" fill="#3A74BC"/>
<rect x="561.10" y="173.95" width="1.00" height="1.90" fill="#8FAED8"/>
<rect x="556.80" y="179.80" width="1.10" height="2.00" fill="#3A74BC"/>
<rect x="561.10" y="179.80" width="1.00" height="1.90" fill="#8FAED8"/>
<rect x="556.80" y="185.65" width="1.10" height="2.00" fill="#3A74BC"/>
<rect x="561.10" y="185.65" width="1.00" height="1.90" fill="#8FAED8"/>
<rect x="556.80" y="191.50" width="1.10" height="2.00" fill="#3A74BC"/>
<rect x="561.10" y="191.50" width="1.00" height="1.90" fill="#8FAED8"/>
<rect x="556.80" y="197.35" width="1.10" height="2.00" fill="#3A74BC"/>
<rect x="561.10" y="197.35" width="1.00" height="1.90" fill="#8FAED8"/>
<rect x="556.80" y="203.20" width="1.10" height="2.00" fill="#3A74BC"/>
<rect x="561.10" y="203.20" width="1.00" height="1.90" fill="#8FAED8"/>
<rect x="556.80" y="209.05" width="1.10" height="2.00" fill="#3A74BC"/>
<rect x="561.10" y="209.05" width="1.00" height="1.90" fill="#8FAED8"/>
<rect x="556.80" y="214.90" width="1.10" height="2.00" fill="#3A74BC"/>
<rect x="561.10" y="214.90" width="1.00" height="1.90" fill="#8FAED8"/>
<rect x="556.80" y="220.75" width="1.10" height="2.00" fill="#3A74BC"/>
<rect x="561.10" y="220.75" width="1.00" height="1.90" fill="#8FAED8"/>
<rect x="556.80" y="226.60" width="1.10" height="2.00" fill="#3A74BC"/>
<rect x="561.10" y="226.60" width="1.00" height="1.90" fill="#8FAED8"/>
<rect x="556.80" y="232.45" width="1.10" height="2.00" fill="#3A74BC"/>
<rect x="561.10" y="232.45" width="1.00" height="1.90" fill="#8FAED8"/>
<rect x="556.80" y="238.30" width="1.10" height="2.00" fill="#3A74BC"/>
<rect x="561.10" y="238.30" width="1.00" height="1.90" fill="#8FAED8"/>
<rect x="556.80" y="244.15" width="1.10" height="2.00" fill="#3A74BC"/>
<rect x="561.10" y="244.15" width="1.00" height="1.90" fill="#8FAED8"/>
<rect x="556.80" y="250.00" width="1.10" height="2.00" fill="#3A74BC"/>
<rect x="561.10" y="250.00" width="1.00" height="1.90" fill="#8FAED8"/>
<rect x="556.80" y="255.85" width="1.10" height="2.00" fill="#3A74BC"/>
<rect x="561.10" y="255.85" width="1.00" height="1.90" fill="#8FAED8"/>
<rect x="556.80" y="261.70" width="1.10" height="2.00" fill="#3A74BC"/>
<rect x="561.10" y="261.70" width="1.00" height="1.90" fill="#8FAED8"/>
<rect x="556.80" y="267.55" width="1.10" height="2.00" fill="#3A74BC"/>
<rect x="561.10" y="267.55" width="1.00" height="1.90" fill="#8FAED8"/>
<rect x="556.80" y="273.40" width="1.10" height="2.00" fill="#3A74BC"/>
<rect x="561.10" y="273.40" width="1.00" height="1.90" fill="#8FAED8"/>
<rect x="556.80" y="279.25" width="1.10" height="2.00" fill="#3A74BC"/>
<rect x="561.10" y="279.25" width="1.00" height="1.90" fill="#8FAED8"/>
<rect x="556.80" y="285.10" width="1.10" height="2.00" fill="#3A74BC"/>
<rect x="561.10" y="285.10" width="1.00" height="1.90" fill="#8FAED8"/>
<rect x="556.80" y="290.95" width="1.10" height="2.00" fill="#3A74BC"/>
<rect x="561.10" y="290.95" width="1.00" height="1.90" fill="#8FAED8"/>
<rect x="556.80" y="296.80" width="1.10" height="2.00" fill="#3A74BC"/>
<rect x="561.10" y="296.80" width="1.00" height="1.90" fill="#8FAED8"/>
<rect x="556.80" y="302.65" width="1.10" height="2.00" fill="#3A74BC"/>
<rect x="561.10" y="302.65" width="1.00" height="1.90" fill="#8FAED8"/>
<rect x="556.80" y="308.50" width="1.10" height="2.00" fill="#3A74BC"/>
<rect x="561.10" y="308.50" width="1.00" height="1.90" fill="#8FAED8"/>
<rect x="556.80" y="314.35" width="1.10" height="2.00" fill="#3A74BC"/>
<rect x="561.10" y="314.35" width="1.00" height="1.90" fill="#8FAED8"/>
<rect x="556.80" y="320.20" width="1.10" height="2.00" fill="#3A74BC"/>
<rect x="561.10" y="320.20" width="1.00" height="1.90" fill="#8FAED8"/>
<rect x="556.80" y="326.05" width="1.10" height="2.00" fill="#3A74BC"/>
<rect x="561.10" y="326.05" width="1.00" height="1.90" fill="#8FAED8"/>
<rect x="556.80" y="331.90" width="1.10" height="2.00" fill="#3A74BC"/>
<rect x="561.10" y="331.90" width="1.00" height="1.90" fill="#8FAED8"/>
<rect x="556.80" y="337.75" width="1.10" height="2.00" fill="#3A74BC"/>
<rect x="561.10" y="337.75" width="1.00" height="1.90" fill="#8FAED8"/>
<rect x="556.80" y="343.60" width="1.10" height="2.00" fill="#3A74BC"/>
<rect x="561.10" y="343.60" width="1.00" height="1.90" fill="#8FAED8"/>
<rect x="556.80" y="349.45" width="1.10" height="2.00" fill="#3A74BC"/>
<rect x="561.10" y="349.45" width="1.00" height="1.90" fill="#8FAED8"/>
<rect x="556.80" y="355.30" width="1.10" height="2.00" fill="#3A74BC"/>
<rect x="561.10" y="355.30" width="1.00" height="1.90" fill="#8FAED8"/>
<rect x="556.80" y="361.15" width="1.10" height="2.00" fill="#3A74BC"/>
<rect x="561.10" y="361.15" width="1.00" height="1.90" fill="#8FAED8"/>
<rect x="556.80" y="367.00" width="1.10" height="2.00" fill="#3A74BC"/>
<rect x="561.10" y="367.00" width="1.00" height="1.90" fill="#8FAED8"/>
<rect x="556.80" y="372.85" width="1.10" height="2.00" fill="#3A74BC"/>
<rect x="561.10" y="372.85" width="1.00" height="1.90" fill="#8FAED8"/>
<rect x="556.80" y="378.70" width="1.10" height="2.00" fill="#3A74BC"/>
<rect x="561.10" y="378.70" width="1.00" height="1.90" fill="#8FAED8"/>
<rect x="556.80" y="384.55" width="1.10" height="2.00" fill="#3A74BC"/>
<rect x="561.10" y="384.55" width="1.00" height="1.90" fill="#8FAED8"/>
<rect x="556.80" y="390.40" width="1.10" height="2.00" fill="#3A74BC"/>
<rect x="561.10" y="390.40" width="1.00" height="1.90" fill="#8FAED8"/>
<rect x="556.80" y="396.25" width="1.10" height="2.00" fill="#3A74BC"/>
<rect x="561.10" y="396.25" width="1.00" height="1.90" fill="#8FAED8"/>
<rect x="556.80" y="402.10" width="1.10" height="2.00" fill="#3A74BC"/>
<rect x="561.10" y="402.10" width="1.00" height="1.90" fill="#8FAED8"/>
<rect x="556.80" y="407.95" width="1.10" height="2.00" fill="#3A74BC"/>
<rect x="561.10" y="407.95" width="1.00" height="1.90" fill="#8FAED8"/>
<rect x="556.80" y="413.80" width="1.10" height="2.00" fill="#3A74BC"/>
<rect x="561.10" y="413.80" width="1.00" height="1.90" fill="#8FAED8"/>
<rect x="556.80" y="419.65" width="1.10" height="2.00" fill="#3A74BC"/>
<rect x="561.10" y="419.65" width="1.00" height="1.90" fill="#8FAED8"/>
<rect x="556.80" y="425.50" width="1.10" height="2.00" fill="#3A74BC"/>
<rect x="561.10" y="425.50" width="1.00" height="1.90" fill="#8FAED8"/>
<rect x="556.80" y="431.35" width="1.10" height="2.00" fill="#3A74BC"/>
<rect x="561.10" y="431.35" width="1.00" height="1.90" fill="#8FAED8"/>
<rect x="556.80" y="437.20" width="1.10" height="2.00" fill="#3A74BC"/>
<rect x="561.10" y="437.20" width="1.00" height="1.90" fill="#8FAED8"/>
<rect x="556.80" y="443.05" width="1.10" height="2.00" fill="#3A74BC"/>
<rect x="561.10" y="443.05" width="1.00" height="1.90" fill="#8FAED8"/>
<polygon points="511.93,221.44 555.98,176.58 555.98,183.58 511.93,227.84" fill="#080C14"/>
<polygon points="511.93,221.44 555.98,176.58 555.98,178.68 511.93,223.54" fill="#EE861C" stroke="#080C14" stroke-width="0.60" stroke-linejoin="round"/>
<polygon points="511.93,305.44 555.98,260.58 555.98,262.98 511.93,307.84" fill="#EE861C" stroke="#080C14" stroke-width="0.90" stroke-linejoin="round"/>
<polygon points="511.93,383.94 555.98,339.08 555.98,341.48 511.93,386.34" fill="#EE861C" stroke="#080C14" stroke-width="0.90" stroke-linejoin="round"/>
<polygon points="511.93,466.24 555.98,421.38 555.98,423.78 511.93,468.64" fill="#EE861C" stroke="#080C14" stroke-width="0.90" stroke-linejoin="round"/>
<polygon points="513.60,471.00 554.00,431.80 554.00,438.10 513.60,477.30" fill="#080C14" stroke="#080C14" stroke-width="0.80" stroke-linejoin="round"/>
<polygon points="513.60,471.50 554.00,432.30 554.00,433.50 513.60,472.70" fill="#318BE3"/>
<polygon points="509.44,302.85 513.84,304.30 560.45,179.93 556.04,178.48" fill="#318BE3" stroke="#080C14" stroke-width="0.90" stroke-linejoin="round"/>
<line x1="511.02" y1="303.37" x2="557.63" y2="179.00" stroke="#0A1A30" stroke-width="0.60" stroke-linecap="butt"/>
<line x1="512.43" y1="303.84" x2="559.04" y2="179.47" stroke="#0A1A30" stroke-width="0.60" stroke-linecap="butt"/>
<polygon points="506.77,299.22 515.57,302.13 559.64,371.96 550.84,369.06" fill="#183C6C" stroke="#080C14" stroke-width="1.50" stroke-linejoin="round"/>
<line x1="512.05" y1="300.96" x2="556.12" y2="370.80" stroke="#080C14" stroke-width="1.30" stroke-linecap="butt"/>
<polygon points="508.97,484.30 513.37,485.75 557.44,372.30 553.04,370.85" fill="#318BE3" stroke="#080C14" stroke-width="0.90" stroke-linejoin="round"/>
<line x1="510.55" y1="484.82" x2="554.62" y2="371.37" stroke="#0A1A30" stroke-width="0.60" stroke-linecap="butt"/>
<line x1="511.96" y1="485.29" x2="556.03" y2="371.84" stroke="#0A1A30" stroke-width="0.60" stroke-linecap="butt"/>
<polygon points="502.20,493.60 502.20,495.80 511.40,499.40 517.60,493.40 517.60,492.20 513.80,490.50" fill="#080C14" stroke="#080C14" stroke-width="0.60" stroke-linejoin="round"/>
<polygon points="509.80,496.40 511.60,497.60 515.20,493.80 514.00,493.00" fill="#1F5EA8"/>
<polygon points="502.60,210.20 504.20,209.10 508.20,210.30 508.20,212.40 510.20,212.60 510.20,208.60 511.60,208.20 514.00,209.20 514.00,492.40 509.20,496.40 502.60,494.40" fill="#080C14"/>
<rect x="506.60" y="214.40" width="1.30" height="279.80" fill="#318BE3"/>
<rect x="503.90" y="217.00" width="6.10" height="2.30" fill="#318BE3"/>
<rect x="503.90" y="222.85" width="6.10" height="2.30" fill="#318BE3"/>
<rect x="503.90" y="228.70" width="6.10" height="2.30" fill="#318BE3"/>
<rect x="503.90" y="234.55" width="6.10" height="2.30" fill="#318BE3"/>
<rect x="503.90" y="240.40" width="6.10" height="2.30" fill="#318BE3"/>
<rect x="503.90" y="246.25" width="6.10" height="2.30" fill="#318BE3"/>
<rect x="503.90" y="252.10" width="6.10" height="2.30" fill="#318BE3"/>
<rect x="503.90" y="257.95" width="6.10" height="2.30" fill="#318BE3"/>
<rect x="503.90" y="263.80" width="6.10" height="2.30" fill="#318BE3"/>
<rect x="503.90" y="269.65" width="6.10" height="2.30" fill="#318BE3"/>
<rect x="503.90" y="275.50" width="6.10" height="2.30" fill="#318BE3"/>
<rect x="503.90" y="281.35" width="6.10" height="2.30" fill="#318BE3"/>
<rect x="503.90" y="287.20" width="6.10" height="2.30" fill="#318BE3"/>
<rect x="503.90" y="293.05" width="6.10" height="2.30" fill="#318BE3"/>
<rect x="503.90" y="298.90" width="6.10" height="2.30" fill="#318BE3"/>
<rect x="503.90" y="304.75" width="6.10" height="2.30" fill="#318BE3"/>
<rect x="503.90" y="310.60" width="6.10" height="2.30" fill="#318BE3"/>
<rect x="503.90" y="316.45" width="6.10" height="2.30" fill="#318BE3"/>
<rect x="503.90" y="322.30" width="6.10" height="2.30" fill="#318BE3"/>
<rect x="503.90" y="328.15" width="6.10" height="2.30" fill="#318BE3"/>
<rect x="503.90" y="334.00" width="6.10" height="2.30" fill="#318BE3"/>
<rect x="503.90" y="339.85" width="6.10" height="2.30" fill="#318BE3"/>
<rect x="503.90" y="345.70" width="6.10" height="2.30" fill="#318BE3"/>
<rect x="503.90" y="351.55" width="6.10" height="2.30" fill="#318BE3"/>
<rect x="503.90" y="357.40" width="6.10" height="2.30" fill="#318BE3"/>
<rect x="503.90" y="363.25" width="6.10" height="2.30" fill="#318BE3"/>
<rect x="503.90" y="369.10" width="6.10" height="2.30" fill="#318BE3"/>
<rect x="503.90" y="374.95" width="6.10" height="2.30" fill="#318BE3"/>
<rect x="503.90" y="380.80" width="6.10" height="2.30" fill="#318BE3"/>
<rect x="503.90" y="386.65" width="6.10" height="2.30" fill="#318BE3"/>
<rect x="503.90" y="392.50" width="6.10" height="2.30" fill="#318BE3"/>
<rect x="503.90" y="398.35" width="6.10" height="2.30" fill="#318BE3"/>
<rect x="503.90" y="404.20" width="6.10" height="2.30" fill="#318BE3"/>
<rect x="503.90" y="410.05" width="6.10" height="2.30" fill="#318BE3"/>
<rect x="503.90" y="415.90" width="6.10" height="2.30" fill="#318BE3"/>
<rect x="503.90" y="421.75" width="6.10" height="2.30" fill="#318BE3"/>
<rect x="503.90" y="427.60" width="6.10" height="2.30" fill="#318BE3"/>
<rect x="503.90" y="433.45" width="6.10" height="2.30" fill="#318BE3"/>
<rect x="503.90" y="439.30" width="6.10" height="2.30" fill="#318BE3"/>
<rect x="503.90" y="445.15" width="6.10" height="2.30" fill="#318BE3"/>
<rect x="503.90" y="451.00" width="6.10" height="2.30" fill="#318BE3"/>
<rect x="503.90" y="456.85" width="6.10" height="2.30" fill="#318BE3"/>
<rect x="503.90" y="462.70" width="6.10" height="2.30" fill="#318BE3"/>
<rect x="503.90" y="468.55" width="6.10" height="2.30" fill="#318BE3"/>
<rect x="503.90" y="474.40" width="6.10" height="2.30" fill="#318BE3"/>
<rect x="503.90" y="480.25" width="6.10" height="2.30" fill="#318BE3"/>
<rect x="503.90" y="486.10" width="6.10" height="2.30" fill="#318BE3"/>
<rect x="503.90" y="491.95" width="6.10" height="2.30" fill="#318BE3"/>
<rect x="511.30" y="210.90" width="1.40" height="281.00" fill="#133463"/>
<rect x="511.50" y="213.60" width="0.90" height="1.60" fill="#9DB8DC"/>
<rect x="511.50" y="219.45" width="0.90" height="1.60" fill="#9DB8DC"/>
<rect x="511.50" y="225.30" width="0.90" height="1.60" fill="#9DB8DC"/>
<rect x="511.50" y="231.15" width="0.90" height="1.60" fill="#9DB8DC"/>
<rect x="511.50" y="237.00" width="0.90" height="1.60" fill="#9DB8DC"/>
<rect x="511.50" y="242.85" width="0.90" height="1.60" fill="#9DB8DC"/>
<rect x="511.50" y="248.70" width="0.90" height="1.60" fill="#9DB8DC"/>
<rect x="511.50" y="254.55" width="0.90" height="1.60" fill="#9DB8DC"/>
<rect x="511.50" y="260.40" width="0.90" height="1.60" fill="#9DB8DC"/>
<rect x="511.50" y="266.25" width="0.90" height="1.60" fill="#9DB8DC"/>
<rect x="511.50" y="272.10" width="0.90" height="1.60" fill="#9DB8DC"/>
<rect x="511.50" y="277.95" width="0.90" height="1.60" fill="#9DB8DC"/>
<rect x="511.50" y="283.80" width="0.90" height="1.60" fill="#9DB8DC"/>
<rect x="511.50" y="289.65" width="0.90" height="1.60" fill="#9DB8DC"/>
<rect x="511.50" y="295.50" width="0.90" height="1.60" fill="#9DB8DC"/>
<rect x="511.50" y="301.35" width="0.90" height="1.60" fill="#9DB8DC"/>
<rect x="511.50" y="307.20" width="0.90" height="1.60" fill="#9DB8DC"/>
<rect x="511.50" y="313.05" width="0.90" height="1.60" fill="#9DB8DC"/>
<rect x="511.50" y="318.90" width="0.90" height="1.60" fill="#9DB8DC"/>
<rect x="511.50" y="324.75" width="0.90" height="1.60" fill="#9DB8DC"/>
<rect x="511.50" y="330.60" width="0.90" height="1.60" fill="#9DB8DC"/>
<rect x="511.50" y="336.45" width="0.90" height="1.60" fill="#9DB8DC"/>
<rect x="511.50" y="342.30" width="0.90" height="1.60" fill="#9DB8DC"/>
<rect x="511.50" y="348.15" width="0.90" height="1.60" fill="#9DB8DC"/>
<rect x="511.50" y="354.00" width="0.90" height="1.60" fill="#9DB8DC"/>
<rect x="511.50" y="359.85" width="0.90" height="1.60" fill="#9DB8DC"/>
<rect x="511.50" y="365.70" width="0.90" height="1.60" fill="#9DB8DC"/>
<rect x="511.50" y="371.55" width="0.90" height="1.60" fill="#9DB8DC"/>
<rect x="511.50" y="377.40" width="0.90" height="1.60" fill="#9DB8DC"/>
<rect x="511.50" y="383.25" width="0.90" height="1.60" fill="#9DB8DC"/>
<rect x="511.50" y="389.10" width="0.90" height="1.60" fill="#9DB8DC"/>
<rect x="511.50" y="394.95" width="0.90" height="1.60" fill="#9DB8DC"/>
<rect x="511.50" y="400.80" width="0.90" height="1.60" fill="#9DB8DC"/>
<rect x="511.50" y="406.65" width="0.90" height="1.60" fill="#9DB8DC"/>
<rect x="511.50" y="412.50" width="0.90" height="1.60" fill="#9DB8DC"/>
<rect x="511.50" y="418.35" width="0.90" height="1.60" fill="#9DB8DC"/>
<rect x="511.50" y="424.20" width="0.90" height="1.60" fill="#9DB8DC"/>
<rect x="511.50" y="430.05" width="0.90" height="1.60" fill="#9DB8DC"/>
<rect x="511.50" y="435.90" width="0.90" height="1.60" fill="#9DB8DC"/>
<rect x="511.50" y="441.75" width="0.90" height="1.60" fill="#9DB8DC"/>
<rect x="511.50" y="447.60" width="0.90" height="1.60" fill="#9DB8DC"/>
<rect x="511.50" y="453.45" width="0.90" height="1.60" fill="#9DB8DC"/>
<rect x="511.50" y="459.30" width="0.90" height="1.60" fill="#9DB8DC"/>
<rect x="511.50" y="465.15" width="0.90" height="1.60" fill="#9DB8DC"/>
<rect x="511.50" y="471.00" width="0.90" height="1.60" fill="#9DB8DC"/>
<rect x="511.50" y="476.85" width="0.90" height="1.60" fill="#9DB8DC"/>
<rect x="511.50" y="482.70" width="0.90" height="1.60" fill="#9DB8DC"/>
<rect x="511.50" y="488.55" width="0.90" height="1.60" fill="#9DB8DC"/>
<rect x="503.90" y="228.00" width="3.00" height="12.50" fill="#3E98EE"/>
<rect x="503.90" y="312.00" width="3.00" height="12.50" fill="#3E98EE"/>
<rect x="503.90" y="390.50" width="3.00" height="12.50" fill="#3E98EE"/>
<rect x="503.90" y="472.80" width="3.00" height="12.50" fill="#3E98EE"/>
<polyline points="623.30,120.50 544.20,120.50 495.70,194.00" fill="none" stroke="#161616" stroke-width="1.25" stroke-linejoin="miter"/>
<polyline points="635.80,201.20 586.70,201.20 563.60,234.00" fill="none" stroke="#161616" stroke-width="1.25" stroke-linejoin="miter"/>
<polyline points="639.70,274.50 584.20,274.50 489.00,386.00" fill="none" stroke="#161616" stroke-width="1.25" stroke-linejoin="miter"/>
<polyline points="634.20,340.30 581.70,340.30 563.60,367.50" fill="none" stroke="#161616" stroke-width="1.25" stroke-linejoin="miter"/>
<polyline points="632.50,392.20 585.00,392.20 563.60,419.20" fill="none" stroke="#161616" stroke-width="1.25" stroke-linejoin="miter"/>
<text x="564.2" y="110" font-size="19" textLength="37.6" lengthAdjust="spacing" fill="#101010" font-family="'Liberation Serif','Noto Serif CJK SC',serif">层板</text>
<text x="592.2" y="192.9" font-size="19" textLength="37.3" lengthAdjust="spacing" fill="#101010" font-family="'Liberation Serif','Noto Serif CJK SC',serif">立柱</text>
<text x="594.1" y="266.6" font-size="19.5" textLength="38.1" lengthAdjust="spacing" fill="#101010" font-family="'Liberation Serif','Noto Serif CJK SC',serif">横梁</text>
<text x="592.9" y="331.6" font-size="19.5" textLength="38.2" lengthAdjust="spacing" fill="#101010" font-family="'Liberation Serif','Noto Serif CJK SC',serif">斜撑</text>
<text x="592.1" y="386.5" font-size="19.5" textLength="38.2" lengthAdjust="spacing" fill="#101010" font-family="'Liberation Serif','Noto Serif CJK SC',serif">横撑</text>
<text x="178.5" y="416.3" font-size="19.5" textLength="38.2" lengthAdjust="spacing" fill="#101010" font-family="'Liberation Serif','Noto Serif CJK SC',serif">主架</text>
<text x="366.1" y="479.6" font-size="19" textLength="37.7" lengthAdjust="spacing" fill="#101010" font-family="'Liberation Serif','Noto Serif CJK SC',serif">副架</text>
</svg>
</body></html>
